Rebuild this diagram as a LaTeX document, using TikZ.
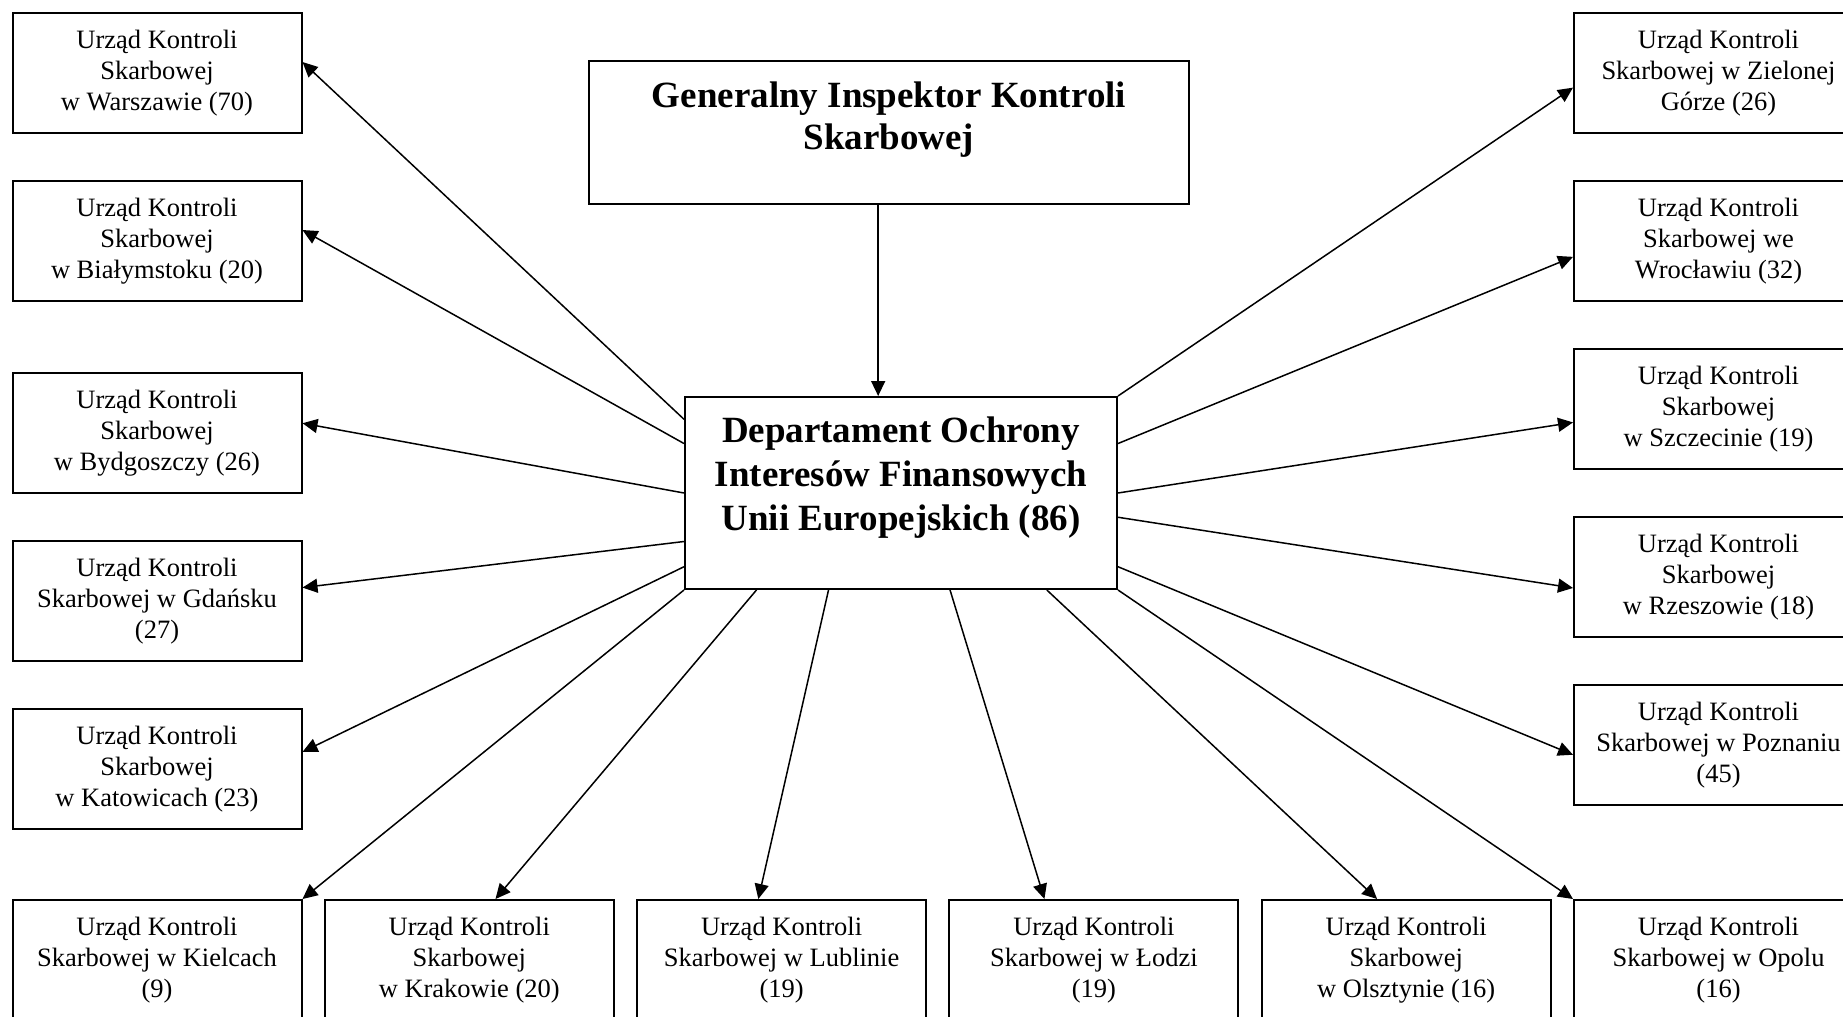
\documentclass[tikz,border=0pt]{standalone}
\usepackage{fontspec}
\setmainfont{Liberation Serif}
\usetikzlibrary{arrows.meta,calc}
\begin{document}
\begin{tikzpicture}[x=0.5pt,y=-0.5pt,
  ubox/.style={draw, line width=1pt, minimum width=144.5pt, minimum height=60pt,
    inner sep=0pt, align=center, font=\fontsize{13.25}{15.5}\selectfont},
  bigbox/.style={draw, line width=1pt, inner sep=0pt,
    font=\bfseries\fontsize{18.5}{21.5}\selectfont},
  conn/.style={line width=0.75pt, -{Triangle[length=7.5pt,width=7pt]}}]
\path[use as bounding box, fill=white] (0,0) rectangle (1843,1017);

% central boxes
\node[bigbox] (giks) at (889,132.5) {\parbox[c][71.5pt][t]{300pt}{\centering\rule{0pt}{23pt}Generalny Inspektor Kontroli\\Skarbowej}};
\node[bigbox] (dept) at (901,493) {\parbox[c][96pt][t]{216pt}{\fontsize{18.5}{22.2}\selectfont\centering\rule{0pt}{22.5pt}Departament Ochrony\\Interesów Finansowych\\Unii Europejskich (86)}};

% left column
\node[ubox] (war) at (157,73) {Urząd Kontroli\\Skarbowej\\w Warszawie (70)};
\node[ubox] (bia) at (157,241) {Urząd Kontroli\\Skarbowej\\w Białymstoku (20)};
\node[ubox] (byd) at (157,433) {Urząd Kontroli\\Skarbowej\\w Bydgoszczy (26)};
\node[ubox] (gda) at (157,601) {Urząd Kontroli\\Skarbowej w Gdańsku\\(27)};
\node[ubox] (kat) at (157,769) {Urząd Kontroli\\Skarbowej\\w Katowicach (23)};

% bottom row
\node[ubox] (kie) at (157,960) {Urząd Kontroli\\Skarbowej w Kielcach\\(9)};
\node[ubox] (kra) at (469.3,960) {Urząd Kontroli\\Skarbowej\\w Krakowie (20)};
\node[ubox] (lub) at (781.6,960) {Urząd Kontroli\\Skarbowej w Lublinie\\(19)};
\node[ubox] (lod) at (1093.9,960) {Urząd Kontroli\\Skarbowej w Łodzi\\(19)};
\node[ubox] (ols) at (1406.2,960) {Urząd Kontroli\\Skarbowej\\w Olsztynie (16)};
\node[ubox] (opo) at (1718.5,960) {Urząd Kontroli\\Skarbowej w Opolu\\(16)};

% right column
\node[ubox] (zie) at (1718.5,73) {Urząd Kontroli\\Skarbowej w Zielonej\\Górze (26)};
\node[ubox] (wro) at (1718.5,241) {Urząd Kontroli\\Skarbowej we\\Wrocławiu (32)};
\node[ubox] (szc) at (1718.5,409) {Urząd Kontroli\\Skarbowej\\w Szczecinie (19)};
\node[ubox] (rze) at (1718.5,577) {Urząd Kontroli\\Skarbowej\\w Rzeszowie (18)};
\node[ubox] (poz) at (1718.5,745) {Urząd Kontroli\\Skarbowej w Poznaniu\\(45)};

% GIKS -> Departament
\coordinate (gs) at ($(giks.south west)!0.482!(giks.south east)$);
\draw[conn] (gs) -- (gs |- dept.north);

% left connectors
\draw[conn] ($(dept.north west)!0.12!(dept.south west)$) -- ($(war.north east)!0.41!(war.south east)$);
\draw[conn] ($(dept.north west)!0.245!(dept.south west)$) -- ($(bia.north east)!0.41!(bia.south east)$);
\draw[conn] ($(dept.north west)!0.5!(dept.south west)$) -- ($(byd.north east)!0.42!(byd.south east)$);
\draw[conn] ($(dept.north west)!0.75!(dept.south west)$) -- ($(gda.north east)!0.39!(gda.south east)$);
\draw[conn] ($(dept.north west)!0.88!(dept.south west)$) -- ($(kat.north east)!0.36!(kat.south east)$);
\draw[conn] (dept.south west) -- (kie.north east);

% bottom connectors
\draw[conn] ($(dept.south west)!0.167!(dept.south east)$) -- ($(kra.north west)!0.59!(kra.north east)$);
\draw[conn] ($(dept.south west)!0.333!(dept.south east)$) -- ($(lub.north west)!0.42!(lub.north east)$);
\draw[conn] ($(dept.south west)!0.613!(dept.south east)$) -- ($(lod.north west)!0.33!(lod.north east)$);
\draw[conn] ($(dept.south west)!0.836!(dept.south east)$) -- ($(ols.north west)!0.40!(ols.north east)$);
\draw[conn] (dept.south east) -- (opo.north west);

% right connectors
\draw[conn] (dept.north east) -- ($(zie.north west)!0.62!(zie.south west)$);
\draw[conn] ($(dept.north east)!0.245!(dept.south east)$) -- ($(wro.north west)!0.63!(wro.south west)$);
\draw[conn] ($(dept.north east)!0.5!(dept.south east)$) -- ($(szc.north west)!0.61!(szc.south west)$);
\draw[conn] ($(dept.north east)!0.625!(dept.south east)$) -- ($(rze.north west)!0.59!(rze.south west)$);
\draw[conn] ($(dept.north east)!0.88!(dept.south east)$) -- ($(poz.north west)!0.58!(poz.south west)$);
\end{tikzpicture}
\end{document}
